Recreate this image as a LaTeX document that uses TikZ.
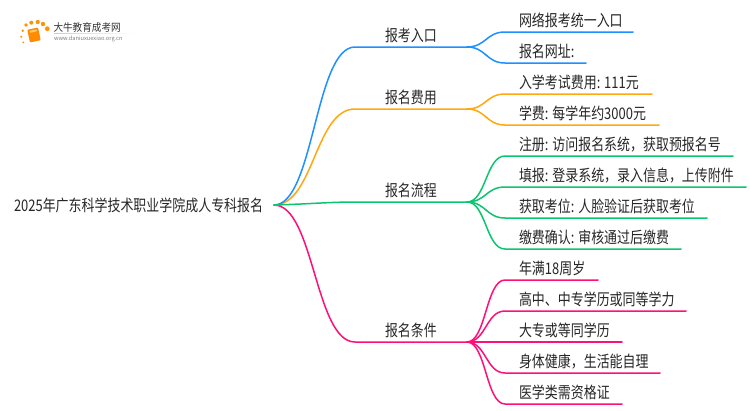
\documentclass[tikz,border=0pt]{standalone}
\usepackage{fontspec}
\setmainfont{Noto Sans CJK SC}
\definecolor{cblue}{HTML}{1E90FF}
\definecolor{corange}{HTML}{FFA811}
\definecolor{cgreen}{HTML}{0BC56F}
\definecolor{cpink}{HTML}{FF0F78}
\definecolor{ctext}{HTML}{262626}
\tikzset{
  lab/.style={anchor=base west,inner sep=0pt,outer sep=0pt,text=ctext,font=\fontsize{16}{16}\selectfont,xscale=.81,transform shape},
  wire/.style={line width=1.5pt,line cap=round},
  dot/.style={circle,fill=#1,inner sep=0pt,draw=none},
}
\newcommand{\rootcurve}[3]{\draw[wire,#1] (root) .. controls ($(root)+(40,0)$) and ($(#2)+(-40,0)$) .. (#2) -- (#3);}
\newcommand{\leafcurve}[4]{\draw[wire,#1] (#2) .. controls ($(#2)+(19,0)$) and ($(#3)+(-19,0)$) .. (#3) -- (#4);}
\usetikzlibrary{calc}
\begin{document}
\begin{tikzpicture}[x=1pt,y=-1pt]
\useasboundingbox (0,0) rectangle (750,410);
\fill[white] (0,0) rectangle (750,410);
% logo
\foreach \n/\x/\y/\r in {a/26/25/1.8,b/31.3/22.7/2,c/37.7/22/2.1,d/43/24/2.2,e/47.3/28.7/2.4,f/22.7/30.7/1.4,g/21.3/36.7/1.1,h/23.3/42.3/1}
  \node[dot=orange!85!yellow,minimum size=2*\r pt] (logo\n) at (\x,\y) {};
\fill[rounded corners=1pt,orange!90!yellow,rotate around={12:(34,35)}] (28.5,28.5) rectangle (39.5,41.5);
\fill[rounded corners=1pt,orange!70!yellow!60!white,rotate around={12:(34,35)}] (30,30) rectangle (38,32);
\node[lab,text=black!80,font=\fontsize{10.5}{10.5}\selectfont,xscale=1.13] (logot) at (53.5,31) {大牛教育成考网};
\node[lab,text=black!50,font=\fontsize{5.7}{6}\selectfont,xscale=1.23] (logou) at (54,40.5) {www.daniuxuexiao.org.cn};
\shade[left color=black!20,right color=white] (54,33) rectangle (134,33.5);
% text
\node[lab] (roottext) at (14,211) {2025年广东科学技术职业学院成人专科报名};
\coordinate (root) at (274,205);
\node[lab] (t1) at (385,41) {报考入口};
\node[lab] (t2) at (385,103) {报名费用};
\node[lab] (t3) at (385,196) {报名流程};
\node[lab] (t4) at (385,336) {报名条件};
\foreach \n/\y/\s in {
 a/26/网络报考统一入口, b/57/报名网址:,
 c/88/入学考试费用: 111元, d/119/学费: 每学年约3000元,
 e/150/注册: 访问报名系统，获取预报名号, f/181/填报: 登录系统，录入信息，上传附件,
 g/212/获取考位: 人脸验证后获取考位, h/243/缴费确认: 审核通过后缴费,
 i/274/年满18周岁, j/305/高中、中专学历或同等学力, k/336/大专或等同学历,
 l/367/身体健康，生活能自理, m/398/医学类需资格证}
  \node[lab] (leaf\n) at (519,\y) {\s};
% connector points
\coordinate (b1a) at (355,47); \coordinate (b1b) at (467,47);
\coordinate (b2a) at (355,109); \coordinate (b2b) at (467,109);
\coordinate (b3a) at (355,202); \coordinate (b3b) at (467,202);
\coordinate (b4a) at (355,342); \coordinate (b4b) at (467,342);
\foreach \n/\y/\e in {a/32/633,b/63/586,c/94/652,d/125/659,e/156/733,f/187/746,g/218/707,h/249/681,i/280/598,j/311/686,k/342/622,l/373/660,m/404/622}{
  \coordinate (s\n) at (505,\y);
  \coordinate (e\n) at (\e,\y);
}
% connectors
\rootcurve{cpink}{b4a}{b4b}
\rootcurve{corange}{b2a}{b2b}
\rootcurve{cblue}{b1a}{b1b}
\draw[wire,cgreen] (root) .. controls (310,204) and (330,202) .. (b3a) -- (b3b);
\foreach \b/\l in {b1b/a,b1b/b}{\leafcurve{cblue}{\b}{s\l}{e\l}}
\foreach \b/\l in {b2b/c,b2b/d}{\leafcurve{corange}{\b}{s\l}{e\l}}
\foreach \b/\l in {b3b/e,b3b/f,b3b/g,b3b/h}{\leafcurve{cgreen}{\b}{s\l}{e\l}}
\foreach \b/\l in {b4b/i,b4b/j,b4b/k,b4b/l,b4b/m}{\leafcurve{cpink}{\b}{s\l}{e\l}}
\end{tikzpicture}
\end{document}
